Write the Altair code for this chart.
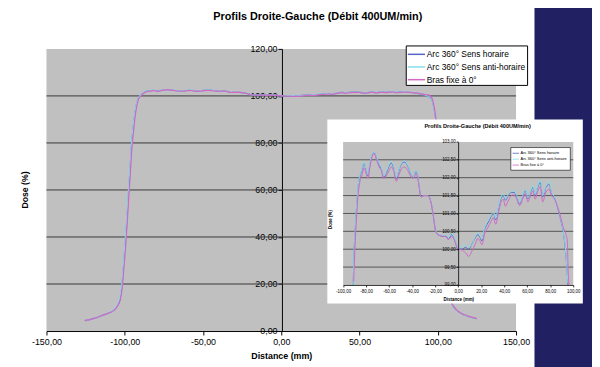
import altair as alt
import pandas as pd

# ---------------- data ----------------
x_mm = [-125.5, -119.0, -113.0, -109.0, -106.5, -104.5, -103.0, -101.7, -100.5, -99.4,
        -98.4, -97.5, -96.5, -95.6, -94.8, -94.2, -93.4, -92.5, -91.7, -91.2,
        -90.8, -89.6, -88.1, -86.7, -85.3, -83.8, -81.8, -80.1, -78.4, -76.7,
        -74.7, -73.0, -71.0, -68.7, -66.7, -64.7, -62.4, -60.1, -58.1, -56.1,
        -53.8, -51.5, -49.2, -46.4, -43.8, -40.9, -38.9, -36.6, -35.2, -33.8,
        -32.3, -29.5, -26.6, -23.7, -21.5, -19.5, -16.6, -12.3, -10.3, -8.6,
        -5.7, -3.7, 0.0, 3.4, 6.3, 9.1, 12.0, 14.9, 17.1, 19.1,
        20.6, 22.9, 25.7, 28.6, 30.6, 32.6, 34.9, 37.1, 39.1, 41.1,
        43.4, 46.3, 48.6, 50.6, 53.4, 56.3, 58.3, 60.6, 62.9, 64.9,
        66.9, 69.1, 71.4, 73.4, 76.3, 79.1, 81.1, 83.4, 86.3, 89.1,
        91.4, 93.4, 94.9, 95.4, 96.3, 97.5, 98.5, 99.5, 100.5, 101.5,
        102.5, 103.5, 105.0, 107.5, 110.0, 113.0, 117.0, 121.0, 125.0]

arc_horaire = [4.4, 5.5, 7.0, 8.0, 9.2, 11.0, 13.5, 20.0, 30.0, 40.0,
               50.0, 60.0, 70.0, 80.0, 85.5, 89.0, 93.0, 96.5, 98.3, 99.0,
               99.6, 100.46, 101.27, 101.82, 102.05, 102.19, 102.41, 102.23, 102.05, 102.37,
               102.64, 102.70, 102.55, 102.37, 102.23, 102.00, 102.14, 102.32, 102.41, 102.28,
               101.96, 102.19, 102.39, 102.44, 102.32, 102.09, 102.00, 102.19, 102.05, 101.73,
               101.46, 101.50, 101.50, 101.32, 100.91, 100.50, 100.39, 100.36, 100.36, 100.27,
               100.41, 100.32, 100.00, 100.00, 100.05, 100.00, 100.14, 100.32, 100.41, 100.32,
               100.23, 100.55, 100.73, 100.91, 101.00, 100.82, 101.14, 101.41, 101.50, 101.37,
               101.50, 101.59, 101.59, 101.50, 101.27, 101.50, 101.64, 101.41, 101.59, 101.73,
               101.50, 101.73, 101.87, 101.46, 101.73, 101.82, 101.55, 101.46, 101.18, 100.82,
               100.46, 99.90, 99.27, 99.00, 98.30, 95.0, 91.0, 84.0, 72.0, 56.0,
               42.0, 31.0, 22.0, 14.0, 10.5, 8.3, 6.8, 5.9, 5.2]

arc_anti_horaire = [4.4, 5.5, 7.0, 8.1, 9.4, 11.5, 14.5, 21.0, 31.5, 41.5,
                    51.5, 61.5, 71.0, 80.5, 86.0, 89.5, 93.3, 96.7, 98.4, 99.0,
                    99.65, 100.50, 101.30, 101.85, 102.08, 102.22, 102.43, 102.25, 102.08, 102.40,
                    102.66, 102.71, 102.56, 102.40, 102.27, 102.04, 102.18, 102.36, 102.46, 102.32,
                    102.00, 102.22, 102.42, 102.47, 102.34, 102.11, 102.02, 102.20, 102.07, 101.74,
                    101.47, 101.50, 101.50, 101.33, 100.92, 100.51, 100.40, 100.38, 100.40, 100.32,
                    100.44, 100.35, 100.02, 100.10, 100.12, 100.06, 100.12, 100.36, 100.46, 100.36,
                    100.28, 100.60, 100.78, 100.95, 101.04, 100.86, 101.18, 101.45, 101.55, 101.40,
                    101.53, 101.62, 101.63, 101.53, 101.30, 101.53, 101.68, 101.44, 101.62, 101.78,
                    101.53, 101.77, 101.93, 101.50, 101.76, 101.90, 101.58, 101.48, 101.20, 100.85,
                    100.48, 99.95, 99.30, 99.05, 98.30, 95.0, 91.0, 84.0, 72.0, 56.0,
                    42.0, 31.0, 22.0, 14.0, 10.5, 8.3, 6.8, 5.9, 5.2]

bras_fixe = [4.4, 5.5, 7.0, 8.0, 9.0, 10.8, 13.0, 18.0, 27.0, 36.0,
             46.0, 56.0, 66.0, 76.0, 82.0, 86.0, 91.0, 95.0, 97.5, 98.7,
             99.1, 100.10, 101.00, 101.60, 101.90, 102.05, 102.28, 102.12, 101.98, 102.30,
             102.60, 102.68, 102.50, 102.30, 102.20, 101.98, 102.05, 102.20, 102.30, 102.20,
             101.90, 102.08, 102.25, 102.30, 102.20, 102.02, 101.98, 102.12, 102.00, 101.70,
             101.46, 101.50, 101.50, 101.32, 100.91, 100.50, 100.39, 100.36, 100.36, 100.27,
             100.35, 100.28, 100.00, 99.98, 99.90, 99.80, 99.95, 100.15, 100.30, 100.22,
             100.12, 100.42, 100.60, 100.78, 100.88, 100.70, 101.00, 101.30, 101.40, 101.20,
             101.35, 101.50, 101.52, 101.42, 101.22, 101.42, 101.55, 101.32, 101.50, 101.62,
             101.40, 101.62, 101.75, 101.32, 101.60, 101.68, 101.50, 101.42, 101.20, 100.90,
             100.60, 100.45, 100.20, 99.60, 99.00, 96.0, 92.0, 85.0, 73.0, 57.0,
             43.0, 32.0, 22.5, 14.2, 10.6, 8.4, 6.9, 6.0, 5.3]

series_names = ["Arc 360° Sens horaire", "Arc 360° Sens anti-horaire", "Bras fixe à 0°"]
series_values = [arc_horaire, arc_anti_horaire, bras_fixe]
series_colors = ["#5365c6", "#84dcec", "#d068c4"]

chart_title = "Profils Droite-Gauche (Débit 400UM/min)"
x_title = "Distance (mm)"
y_title = "Dose (%)"

main_x_ticks = [-150, -100, -50, 0, 50, 100, 150]
main_y_ticks = [0, 20, 40, 60, 80, 100, 120]
main_grid_values = [20, 40, 60, 80, 100]
inset_x_ticks = [-100, -80, -60, -40, -20, 0, 20, 40, 60, 80, 100]
inset_y_ticks = [99.0, 99.5, 100.0, 100.5, 101.0, 101.5, 102.0, 102.5, 103.0]
inset_grid_values = [99.5, 100.0, 100.5, 101.0, 101.5, 102.0, 102.5]

# ---------------- layout helpers ----------------
FONT = "Liberation Sans"
W, H = 476, 286          # main plot area
OX, OY = 47, 47          # page position of the plot origin


def px(v):
    return v - OX


def py(v):
    return v - OY


one = pd.DataFrame({"k": [0]})
label_expr = "(datum.value < 0 ? '-' : '') + replace(format(abs(datum.value), '.2f'), '.', ',')"


def rect(x0, x1, y0, y1, fill, stroke="#000000", sw=0.0):
    return alt.Chart(one).mark_rect(fill=fill, stroke=stroke, strokeWidth=sw).encode(
        x=alt.value(px(x0)), x2=alt.value(px(x1)), y=alt.value(py(y0)), y2=alt.value(py(y1)))


def text(txt, x, y, size, bold=False, angle=0):
    return alt.Chart(pd.DataFrame({"t": [txt]})).mark_text(
        font=FONT, fontSize=size, fontWeight="bold" if bold else "normal",
        angle=angle, align="center", baseline="middle", color="#000000"
    ).encode(text="t:N", x=alt.value(px(x)), y=alt.value(py(y)))


def legend(x0, x1, y0, y1, rows, lx0, lx1, tx, size, lw, bw):
    ld = pd.DataFrame({"serie": series_names, "color": series_colors,
                       "pos": [py(v) for v in rows]})
    box = rect(x0, x1, y0, y1, "#ffffff", "#000000", bw)
    lines = alt.Chart(ld).mark_rule(strokeWidth=lw).encode(
        x=alt.value(px(lx0)), x2=alt.value(px(lx1)),
        y=alt.Y("pos:Q", scale=None, axis=None),
        color=alt.Color("color:N", scale=None, legend=None))
    labels = alt.Chart(ld).mark_text(font=FONT, fontSize=size, align="left",
                                     baseline="middle", color="#000000").encode(
        x=alt.value(px(tx)), y=alt.Y("pos:Q", scale=None, axis=None), text="serie:N")
    return [box, lines, labels]


frames = [pd.DataFrame({"x": x_mm, "y": ys, "serie": n})
          for n, ys in zip(series_names, series_values)]

# ---------------- main chart ----------------
main_x_scale = alt.Scale(domain=[-150, 150], nice=False, zero=False)
main_y_scale = alt.Scale(domain=[0, 120], nice=False, zero=False)
main_x_axis = alt.Axis(orient="bottom", values=main_x_ticks, labelExpr=label_expr,
                       labelFont=FONT, labelFontSize=9, labelColor="#000000",
                       labelPadding=3, labelFlush=False, labelOverlap=False,
                       tickSize=4, tickColor="#000000", domainColor="#000000",
                       grid=False, title=x_title, titleFont=FONT, titleFontSize=9,
                       titleFontWeight="bold", titleColor="#000000", titlePadding=5,
                       zindex=0)
main_y_axis = alt.Axis(orient="left", offset=-(285.7 - OX), values=main_y_ticks,
                       labelExpr=label_expr, labelFont=FONT, labelFontSize=9,
                       labelColor="#000000", labelPadding=1, labelOverlap=False,
                       tickSize=4, tickColor="#000000", domainColor="#000000",
                       grid=False, title=None, zindex=0)

main_grid = alt.Chart(pd.DataFrame({"y": main_grid_values})).mark_rule(
    color="#383838", strokeWidth=1).encode(
    y=alt.Y("y:Q", scale=main_y_scale, axis=main_y_axis),
    x=alt.value(0), x2=alt.value(W))

main_lines = [alt.Chart(f).mark_line(color=c, strokeWidth=1.2, interpolate="monotone").encode(
    x=alt.X("x:Q", scale=main_x_scale, axis=main_x_axis),
    y=alt.Y("y:Q", scale=main_y_scale, axis=main_y_axis))
    for f, c in zip(frames, series_colors)]

main = alt.layer(main_grid, *main_lines)

# ---------------- inset chart ----------------
IX0, IX1, IY0, IY1 = 347.7, 581.0, 141.3, 286.3   # inset plot area on the page
inset_x_scale = alt.Scale(domain=[-100, 100], range=[px(IX0), px(IX1)], nice=False, zero=False)
inset_y_scale = alt.Scale(domain=[99, 103], range=[py(IY1), py(IY0)], nice=False, zero=False)
inset_x_axis = alt.Axis(orient="bottom", offset=py(IY1) - H, values=inset_x_ticks,
                        labelExpr=label_expr, labelFont=FONT, labelFontSize=4.5,
                        labelColor="#000000", labelPadding=1.5, labelFlush=False,
                        labelOverlap=False, tickSize=2, tickWidth=0.8, tickColor="#000000",
                        domainColor="#000000", domainWidth=0.8, grid=False, title=None, zindex=1)
inset_y_axis = alt.Axis(orient="left", offset=-px(464.3), values=inset_y_ticks,
                        labelExpr=label_expr, labelFont=FONT, labelFontSize=4.5,
                        labelColor="#000000", labelPadding=1, labelOverlap=False,
                        tickSize=2, tickWidth=0.8, tickColor="#000000",
                        domainColor="#000000", domainWidth=0.8, grid=False, title=None, zindex=1)

inset_filter = "datum.y >= 98.99 && datum.x >= -100 && datum.x <= 100"
inset_grid = alt.Chart(pd.DataFrame({"y": inset_grid_values})).mark_rule(
    color="#383838", strokeWidth=0.8).encode(
    y=alt.Y("y:Q", scale=inset_y_scale, axis=inset_y_axis),
    x=alt.value(px(IX0)), x2=alt.value(px(IX1)))
inset_lines = [alt.Chart(f).transform_filter(inset_filter).mark_line(
    color=c, strokeWidth=1, interpolate="monotone").encode(
    x=alt.X("x:Q", scale=inset_x_scale, axis=inset_x_axis),
    y=alt.Y("y:Q", scale=inset_y_scale, axis=inset_y_axis))
    for f, c in zip(frames, series_colors)]
inset = alt.layer(inset_grid, *inset_lines)

# ---------------- decorations ----------------
navy = rect(541.7, 620, 0, 400, "#202062")
inset_white = rect(331.7, 590.7, 118.5, 305, "#ffffff")
inset_gray = rect(IX0, IX1, IY0, IY1, "#c0c0c0")

main_legend = legend(411.7, 534.7, 44, 84, [52.5, 65.3, 78.2], 413.3, 430.7, 432.5, 8.5, 1.5, 1)
inset_legend = legend(517.7, 578, 147, 170, [152.8, 158.8, 164.8], 519.5, 526, 527.6, 4, 0.8, 0.6)

texts = [
    text(chart_title, 322, 15, 11, bold=True),
    text(y_title, 25, 190, 8.8, bold=True, angle=270),
    text(chart_title, 484, 125, 5.6, bold=True),
    text(y_title, 335, 220, 4.5, bold=True, angle=270),
    text(x_title, 465, 301.5, 4.5, bold=True),
]

chart = alt.layer(
    navy, main, inset_white, inset_gray, inset, *main_legend, *inset_legend, *texts
).resolve_scale(
    x="independent", y="independent"
).properties(
    width=W, height=H,
    autosize=alt.AutoSizeParams(type="none"),
    padding={"left": OX - 8, "top": OY - 8, "right": 592 - (OX - 8) - W, "bottom": 359 - (OY - 8) - H},
).configure(
    background="#ffffff"
).configure_view(
    fill="#c0c0c0", strokeWidth=0
)

chart.save("out.html", embed_options={"renderer": "svg", "actions": False})
